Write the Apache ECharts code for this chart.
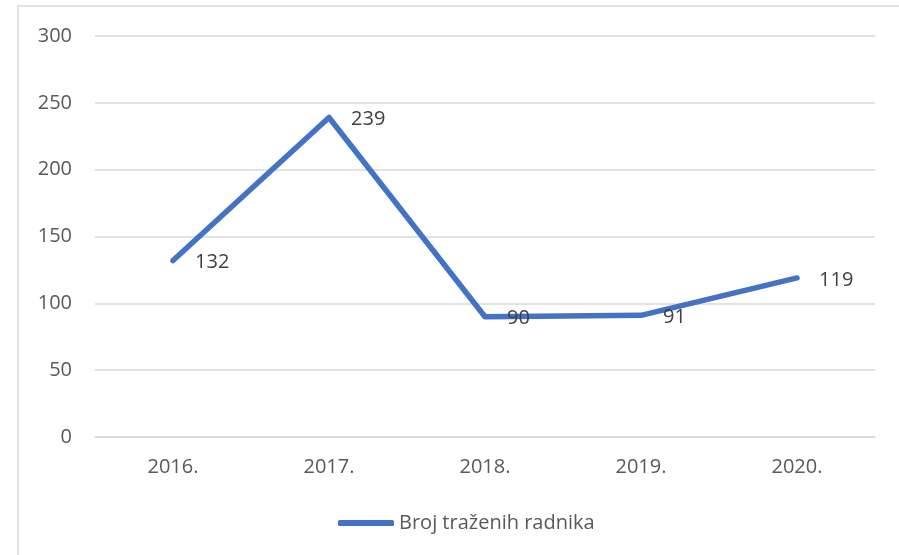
<!DOCTYPE html>
<html>
<head>
<meta charset="utf-8">
<script src="https://cdn.jsdelivr.net/npm/echarts@6/dist/echarts.min.js"></script>
<style>
  html, body { margin: 0; padding: 0; background: #fff; }
  #chart { width: 899px; height: 555px; }
</style>
</head>
<body>
<div id="chart"></div>
<script>
var years = ["2016.", "2017.", "2018.", "2019.", "2020."];
var radnici = [132, 239, 90, 91, 119];
var seriesName = "Broj traženih radnika";

var chart = echarts.init(document.getElementById("chart"));
var fontFam = "'Open Sans', 'Noto Sans', sans-serif";
var option = {
  animation: false,
  backgroundColor: "#ffffff",
  textStyle: { fontFamily: fontFam },
  graphic: [{
    type: "rect",
    shape: { x: 18, y: 6, width: 900, height: 570 },
    style: { fill: "none", stroke: "#d9d9d9", lineWidth: 1.5 },
    silent: true
  }],
  grid: { left: 95, right: 24, top: 36, bottom: 118 },
  legend: {
    top: 508,
    left: 333,
    itemWidth: 56,
    itemHeight: 6,
    itemGap: 4,
    icon: "roundRect",
    textStyle: { color: "#595959", fontSize: 20, fontFamily: fontFam },
    data: [seriesName]
  },
  xAxis: {
    type: "category",
    data: years,
    axisLine: { lineStyle: { color: "#d9d9d9", width: 1.5 } },
    axisTick: { show: false },
    axisLabel: { color: "#595959", fontSize: 20, margin: 20 }
  },
  yAxis: {
    type: "value",
    min: 0,
    max: 300,
    interval: 50,
    axisLine: { show: false },
    axisTick: { show: false },
    axisLabel: { color: "#595959", fontSize: 20, margin: 23 },
    splitLine: { lineStyle: { color: "#d9d9d9", width: 1.5 } }
  },
  series: [{
    name: seriesName,
    type: "line",
    data: radnici,
    symbol: "circle",
    symbolSize: 0.1,
    showSymbol: true,
    lineStyle: { color: "#4472C4", width: 5.5, cap: "round", join: "round" },
    itemStyle: { color: "#4472C4" },
    label: {
      show: true,
      position: "right",
      distance: 22,
      offset: [0, 2],
      color: "#404040",
      fontSize: 20,
      fontFamily: fontFam
    }
  }]
};
chart.setOption(option);
</script>
</body>
</html>
